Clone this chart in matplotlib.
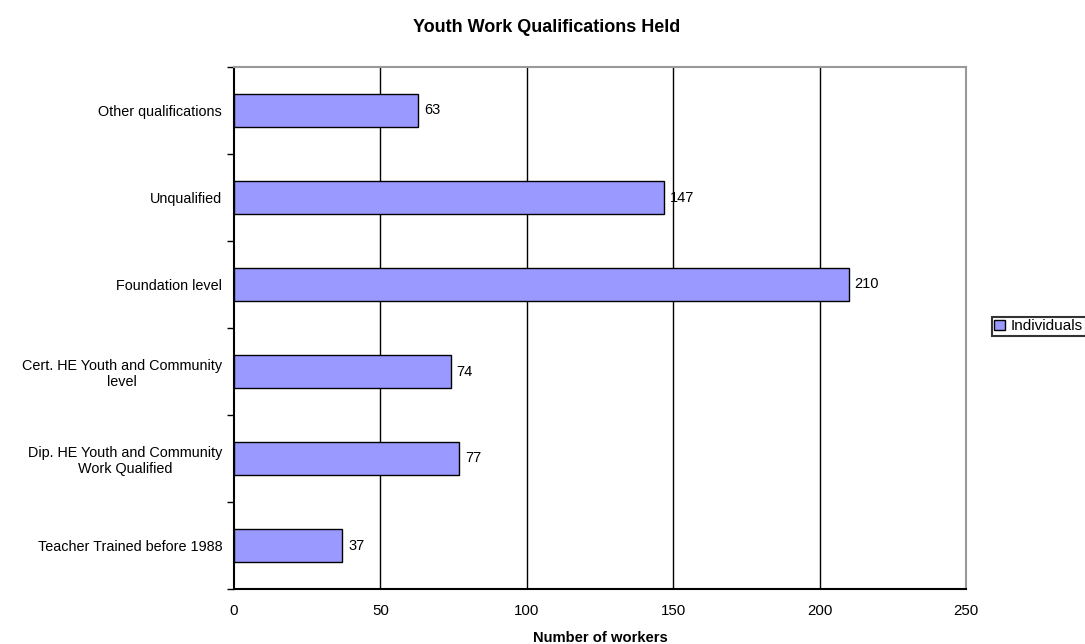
import numpy as np
import matplotlib
matplotlib.use('Agg')
import matplotlib.pyplot as plt

plt.rcParams['font.family'] = ['Liberation Sans', 'DejaVu Sans']

# data, bottom to top
categories = ["Teacher Trained before 1988",
              "Dip. HE Youth and Community\nWork Qualified",
              "Cert. HE Youth and Community\nlevel",
              "Foundation level",
              "Unqualified",
              "Other qualifications"]
individuals = [37, 77, 74, 210, 147, 63]
x_ticks = [0, 50, 100, 150, 200, 250]

fig = plt.figure(figsize=(10.85, 6.44), dpi=100)
ax = fig.add_axes([234/1085, 1 - 589/644, (966 - 234)/1085, (589 - 67)/644])

pos = np.arange(len(categories))
bars = ax.barh(pos, individuals, height=0.39, color='#9999FF',
               edgecolor='black', linewidth=1.0, label='Individuals', zorder=3)

# value labels at the bar ends
for y, v in zip(pos, individuals):
    ax.text(v + 2.0, y, str(v), va='center', ha='left', fontsize=10.5)

ax.set_xlim(0, 250)
ax.set_ylim(-0.5, len(categories) - 0.5)
ax.set_xticks(x_ticks)
ax.set_yticks(pos)
ax.set_yticklabels(categories, fontsize=10.4, multialignment='center')
# ticks between categories
ax.set_yticks(np.arange(-0.5, len(categories)), minor=True)
ax.tick_params(axis='y', which='major', length=0, pad=8.5)
ax.tick_params(axis='y', which='minor', length=5, width=1, direction='out')
ax.tick_params(axis='x', length=0, pad=11, labelsize=10.8)

for xv in x_ticks[1:-1]:
    ax.axvline(xv, color='black', linewidth=1.0, zorder=1)

ax.spines['left'].set_linewidth(1.5)
ax.spines['bottom'].set_linewidth(1.5)
ax.spines['top'].set_color('#999999')
ax.spines['right'].set_color('#999999')
ax.spines['top'].set_linewidth(1.5)
ax.spines['right'].set_linewidth(1.5)

ax.set_xlabel("Number of workers", fontsize=10.6, fontweight='bold', labelpad=9)
fig.text(547/1085, 1 - 27/644, "Youth Work Qualifications Held",
         ha='center', va='center', fontsize=13, fontweight='bold')

leg = fig.legend(handles=[bars], labels=['Individuals'], loc='upper left',
                 bbox_to_anchor=(992/1085, 1 - 317/644), fontsize=11,
                 frameon=True, fancybox=False, borderpad=0.15,
                 handlelength=0.7, handleheight=0.7, handletextpad=0.4,
                 borderaxespad=0)
leg.get_frame().set_edgecolor('black')
leg.get_frame().set_linewidth(1.5)

fig.savefig('out.png', dpi=100)
